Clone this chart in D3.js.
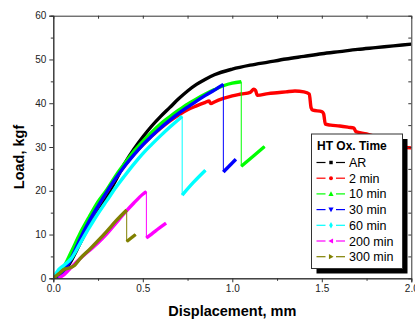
<!DOCTYPE html>
<html>
<head>
<meta charset="utf-8">
<script src="https://cdn.jsdelivr.net/npm/d3@7"></script>
<style>
  html, body { margin: 0; padding: 0; background: #fff; }
  svg { display: block; font-family: "Liberation Sans", Arial, sans-serif; }
</style>
</head>
<body>
<script>
// load-displacement curves, [displacement mm, load kgf]
const ar = [[0,0],[0.05,1],[0.1,4],[0.15,8],[0.2,12],[0.25,16],[0.3,18.8],[0.35,22.5],[0.4,26.3],[0.45,29.5],
  [0.5,32.3],[0.55,34.8],[0.6,37],[0.65,39],[0.7,41],[0.75,42.8],[0.8,44.3],[0.85,45.5],[0.9,46.5],[1.0,47.8],
  [1.1,48.7],[1.2,49.4],[1.3,50.1],[1.4,50.7],[1.5,51.3],[1.6,51.8],[1.7,52.3],[1.8,52.7],[1.9,53.1],[2.0,53.5]];
const min2 = [[0,0],[0.05,1.2],[0.1,4.8],[0.15,9],[0.2,13],[0.25,16.5],[0.3,19.8],[0.35,23],[0.4,25.8],[0.45,28.3],
  [0.5,30.5],[0.55,32.5],[0.6,34.3],[0.65,35.9],[0.7,37.3],[0.75,38.5],[0.8,39.4],[0.85,40.2],[0.87,40.5],[0.88,39.9],
  [0.9,40.3],[0.95,41.1],[1.0,41.7],[1.05,42.1],[1.1,42.5],[1.12,43.2],[1.13,42.9],[1.14,41.8],[1.2,42.2],[1.25,42.4],
  [1.3,42.6],[1.35,42.8],[1.4,42.6],[1.43,42.1],[1.44,39],[1.45,38.4],[1.5,38.1],[1.51,37.6],[1.52,35.2],[1.55,35],
  [1.6,34.8],[1.65,34.5],[1.68,34.3],[1.69,33.5],[1.75,33],[1.85,31.5],[1.95,30],[2.0,29.8]];
const min10 = [[0,0],[0.05,2],[0.1,6],[0.15,10.3],[0.2,14],[0.25,17.5],[0.3,20.3],[0.35,23.5],[0.4,26.3],[0.45,29],
  [0.5,31.3],[0.55,33.4],[0.6,35.3],[0.65,36.9],[0.7,38.4],[0.75,39.8],[0.8,41],[0.85,42.1],[0.9,43.1],[0.95,44],
  [1.0,44.6],[1.05,44.9],[1.05,25.6],[1.12,28],[1.18,30.1]];
const min30 = [[0,0],[0.05,1],[0.1,4.5],[0.15,9],[0.2,13],[0.25,16.5],[0.3,19.8],[0.35,22.9],[0.4,25.7],[0.45,28.2],
  [0.5,30.5],[0.55,32.5],[0.6,34.4],[0.65,36.1],[0.7,37.7],[0.75,39.1],[0.8,40.5],[0.85,41.8],[0.9,43],[0.95,44.3],
  [0.95,24.3],[1.02,27.2]];
const min60 = [[0,0],[0.03,2],[0.06,3],[0.1,4.5],[0.15,8],[0.2,11.5],[0.25,14.8],[0.3,17.8],[0.35,20.8],[0.4,23.5],
  [0.45,26.1],[0.5,28.5],[0.55,30.6],[0.6,32.6],[0.65,34.5],[0.7,36.3],[0.72,37],[0.72,19],[0.78,21.8],[0.85,24.7]];
const min200 = [[0.03,0],[0.06,0.8],[0.1,2.5],[0.15,4.5],[0.2,6.3],[0.25,8.1],[0.3,10.2],[0.35,12.6],[0.4,15],
  [0.45,17.2],[0.5,19.2],[0.52,19.8],[0.52,9.2],[0.57,10.8],[0.63,12.6]];
const min300 = [[0,0],[0.03,1],[0.06,2],[0.1,2.5],[0.12,3],[0.15,4.5],[0.2,6.5],[0.25,8.6],[0.3,10.8],[0.35,13.1],
  [0.41,15.6],[0.41,8.4],[0.46,10]];

const seriesNames = ['AR', '2 min', '10 min', '30 min', '60 min', '200 min', '300 min'];
const seriesData = [ar, min2, min10, min30, min60, min200, min300];
const seriesColors = ['#000000', '#ff0000', '#00ff00', '#0000ff', '#00ffff', '#ff00ff', '#808000'];
const seriesSymbols = [d3.symbolSquare, d3.symbolCircle, 'up', 'down', d3.symbolDiamond, 'left', 'right'];

const xTicks = [0, 0.5, 1.0, 1.5, 2.0];
const yTicks = [0, 10, 20, 30, 40, 50, 60];
const legendTitle = 'HT Ox. Time';

const width = 415, height = 322;
const margin = { top: 15.7, right: 3.7, bottom: 43.7, left: 53.3 };
const innerWidth = width - margin.left - margin.right;
const innerHeight = height - margin.top - margin.bottom;

const svg = d3.select('body').append('svg')
  .attr('width', width)
  .attr('height', height);

const x = d3.scaleLinear().domain([0, 2]).range([0, innerWidth]);
const y = d3.scaleLinear().domain([0, 60]).range([innerHeight, 0]);

const chart = svg.append('g')
  .attr('transform', `translate(${margin.left},${margin.top})`);

chart.append('clipPath').attr('id', 'clip')
  .append('rect').attr('width', innerWidth).attr('height', innerHeight);

const plot = chart.append('g').attr('clip-path', 'url(#clip)');

// split each curve at the vertical drops (same x twice)
function segmentsOf(points) {
  const segs = [];
  let cur = [points[0]];
  for (let i = 1; i < points.length; i++) {
    if (points[i][0] === points[i - 1][0]) { segs.push(cur); cur = []; }
    cur.push(points[i]);
  }
  segs.push(cur);
  return segs;
}

const line = d3.line().x(d => x(d[0])).y(d => y(d[1])).curve(d3.curveMonotoneX);
const thin = d3.line().x(d => x(d[0])).y(d => y(d[1]));

seriesData.forEach((pts, i) => {
  plot.append('path')
    .attr('d', thin(pts))
    .attr('fill', 'none')
    .attr('stroke', seriesColors[i])
    .attr('stroke-width', 1);
  segmentsOf(pts).forEach(seg => {
    if (seg.length < 2) return;
    plot.append('path')
      .attr('d', line(seg))
      .attr('fill', 'none')
      .attr('stroke', seriesColors[i])
      .attr('stroke-width', 3.4)
      .attr('stroke-linejoin', 'round');
  });
});

// axes
const axisColor = '#333';
chart.append('g')
  .attr('transform', `translate(0,${innerHeight})`)
  .call(d3.axisBottom(x).tickValues(xTicks).tickFormat(d3.format('.1f')).tickSize(4).tickPadding(3));
chart.append('g').attr('class', 'minor')
  .attr('transform', `translate(0,${innerHeight})`)
  .call(d3.axisBottom(x).tickValues([0.25, 0.75, 1.25, 1.75]).tickSize(2.5));
chart.append('g')
  .call(d3.axisLeft(y).tickValues(yTicks).tickSize(4).tickPadding(3));
chart.append('g').attr('class', 'minor')
  .call(d3.axisLeft(y).tickValues(d3.range(5, 60, 10)).tickSize(2.5));
chart.append('g').attr('class', 'minor')
  .call(d3.axisTop(x).tickValues(d3.range(0, 2.01, 0.25)).tickSizeInner(-3).tickSizeOuter(0));
chart.append('g').attr('class', 'minor')
  .attr('transform', `translate(${innerWidth},0)`)
  .call(d3.axisRight(y).tickValues(d3.range(0, 60.1, 5)).tickSizeInner(-3).tickSizeOuter(0));

chart.selectAll('.minor .tick text').remove();
chart.selectAll('.domain').attr('stroke', axisColor);
chart.selectAll('.tick line').attr('stroke', axisColor);
chart.selectAll('.tick text').attr('font-size', '10px').attr('fill', '#222')
  .attr('font-family', '"Liberation Sans", Arial, sans-serif');

svg.append('text')
  .attr('x', margin.left + innerWidth / 2)
  .attr('y', 316)
  .attr('text-anchor', 'middle')
  .attr('font-size', '14.5px')
  .attr('font-weight', 'bold')
  .text('Displacement, mm');

svg.append('text')
  .attr('transform', 'rotate(-90)')
  .attr('x', -157)
  .attr('y', 24)
  .attr('text-anchor', 'middle')
  .attr('font-size', '14.5px')
  .attr('font-weight', 'bold')
  .text('Load, kgf');

// legend
const lg = svg.append('g').attr('transform', 'translate(311.5,134)');
const lgW = 91, lgH = 134.5;
lg.append('rect').attr('x', 5).attr('y', 5).attr('width', lgW).attr('height', lgH).attr('fill', '#000');
lg.append('rect').attr('width', lgW).attr('height', lgH).attr('fill', '#fff').attr('stroke', '#333').attr('stroke-width', 1);
lg.append('text').attr('x', 5.5).attr('y', 16)
  .attr('font-size', '12px').attr('font-weight', 'bold').text(legendTitle);

function triangle(dir) {
  const r = 2.6;
  const p = { up: [[0,-r],[r,r*0.8],[-r,r*0.8]], down: [[0,r],[r,-r*0.8],[-r,-r*0.8]],
    left: [[-r,0],[r*0.8,-r],[r*0.8,r]], right: [[r,0],[-r*0.8,-r],[-r*0.8,r]] }[dir];
  return 'M' + p.map(q => q.join(',')).join('L') + 'Z';
}

seriesNames.forEach((name, i) => {
  const row = lg.append('g').attr('transform', `translate(0,${28.5 + i * 15.7})`);
  row.append('line').attr('x1', 5).attr('x2', 14).attr('stroke', seriesColors[i]).attr('stroke-width', 1.2);
  row.append('line').attr('x1', 24.5).attr('x2', 33.5).attr('stroke', seriesColors[i]).attr('stroke-width', 1.2);
  const sym = seriesSymbols[i];
  row.append('path')
    .attr('transform', 'translate(19.5,0)')
    .attr('d', typeof sym === 'string' ? triangle(sym) : d3.symbol(sym, 12)())
    .attr('fill', seriesColors[i]);
  row.append('text').attr('x', 37.5).attr('y', 4.5)
    .attr('font-size', '12.5px').text(name);
});
</script>
</body>
</html>
